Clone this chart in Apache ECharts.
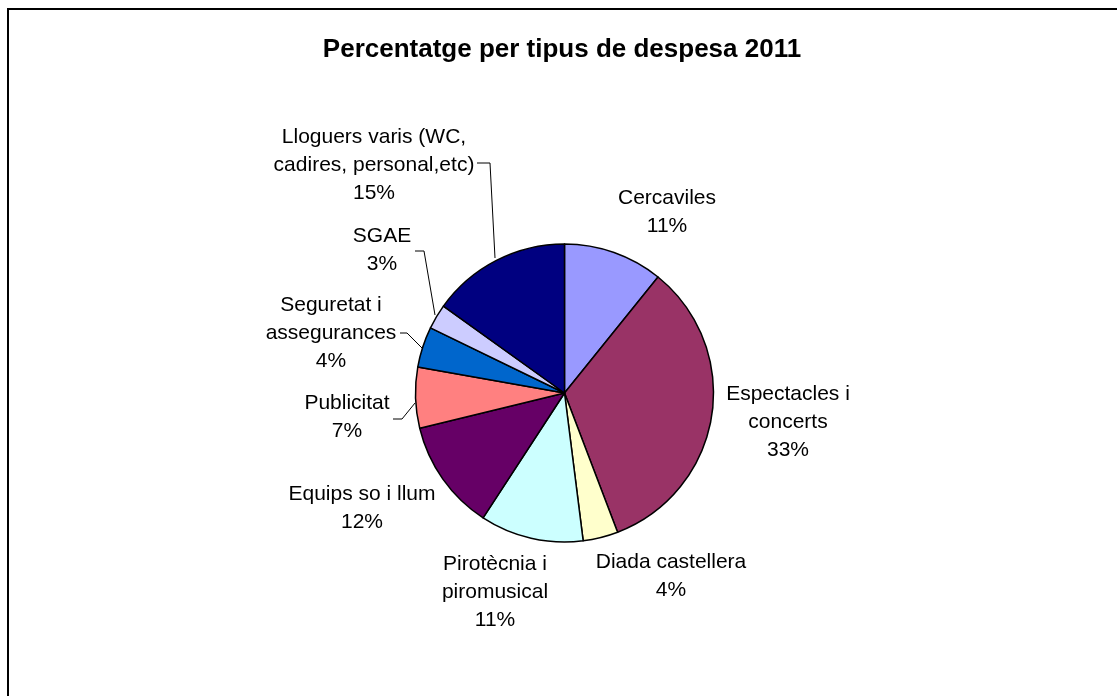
<!DOCTYPE html>
<html>
<head>
<meta charset="utf-8">
<title>Percentatge per tipus de despesa 2011</title>
<script src="https://cdn.jsdelivr.net/npm/echarts@6/dist/echarts.min.js"></script>
<style>
  html, body { margin: 0; padding: 0; background: #fff; }
  #chart { width: 1117px; height: 696px; }
</style>
</head>
<body>
<div id="chart"></div>
<script>
// categories (with the line breaks the chart uses) and their share, in %
const categories = [
  'Cercaviles',
  'Espectacles i\nconcerts',
  'Diada castellera',
  'Pirotècnia i\npiromusical',
  'Equips so i llum',
  'Publicitat',
  'Seguretat i\nassegurances',
  'SGAE',
  'Lloguers varis (WC,\ncadires, personal,etc)'
];
const values = [10.8, 33.4, 3.8, 11.2, 12.0, 6.6, 4.4, 2.7, 15.1];
const colors = [
  '#9999FF', '#993366', '#FFFFCC', '#CCFFFF', '#660066',
  '#FF8080', '#0066CC', '#CCCCFF', '#000080'
];

// where each label block sits, and its leader line (null = no line)
const labelPlaces = [
  [667, 212, null],
  [788, 422, null],
  [671, 576, null],
  [495, 592, null],
  [362, 508, null],
  [347, 417, [[393, 419], [402, 419], [415, 403]]],
  [331, 333, [[400, 333], [407, 333], [422, 348]]],
  [382, 250, [[415, 251], [424, 251], [435, 315]]],
  [374, 165, [[477, 163], [490, 163], [495, 258]]]
];

const chart = echarts.init(document.getElementById('chart'));

chart.setOption({
  animation: false,
  backgroundColor: '#fff',
  title: {
    text: 'Percentatge per tipus de despesa 2011',
    left: 557,
    top: 32,
    textAlign: 'center',
    textStyle: {
      fontFamily: 'Liberation Sans, Arial, sans-serif',
      fontSize: 26,
      fontWeight: 'bold',
      color: '#000'
    }
  },
  graphic: [{
    type: 'rect',
    shape: { x: 8, y: 9, width: 1300, height: 900 },
    style: { fill: null, stroke: '#000', lineWidth: 2 },
    silent: true
  }],
  series: [{
    type: 'pie',
    center: [564.5, 393],
    radius: 149,
    startAngle: 90,
    clockwise: true,
    itemStyle: { borderColor: '#000', borderWidth: 1.5 },
    label: {
      show: true,
      position: 'outside',
      fontFamily: 'Liberation Sans, Arial, sans-serif',
      fontSize: 21,
      lineHeight: 28,
      color: '#000',
      align: 'center',
      formatter: p => p.name + '\n' + Math.round(p.percent) + '%'
    },
    labelLine: {
      lineStyle: { color: '#000', width: 1 }
    },
    labelLayout: p => {
      const place = labelPlaces[p.dataIndex];
      const out = {
        x: place[0],
        y: place[1],
        align: 'center',
        verticalAlign: 'middle',
        hideOverlap: false,
        moveOverlap: false
      };
      if (place[2]) out.labelLinePoints = place[2];
      return out;
    },
    emphasis: { disabled: true },
    data: categories.map((name, i) => ({
      name: name,
      value: values[i],
      itemStyle: { color: colors[i] },
      labelLine: { show: !!labelPlaces[i][2] }
    }))
  }]
});
</script>
</body>
</html>
